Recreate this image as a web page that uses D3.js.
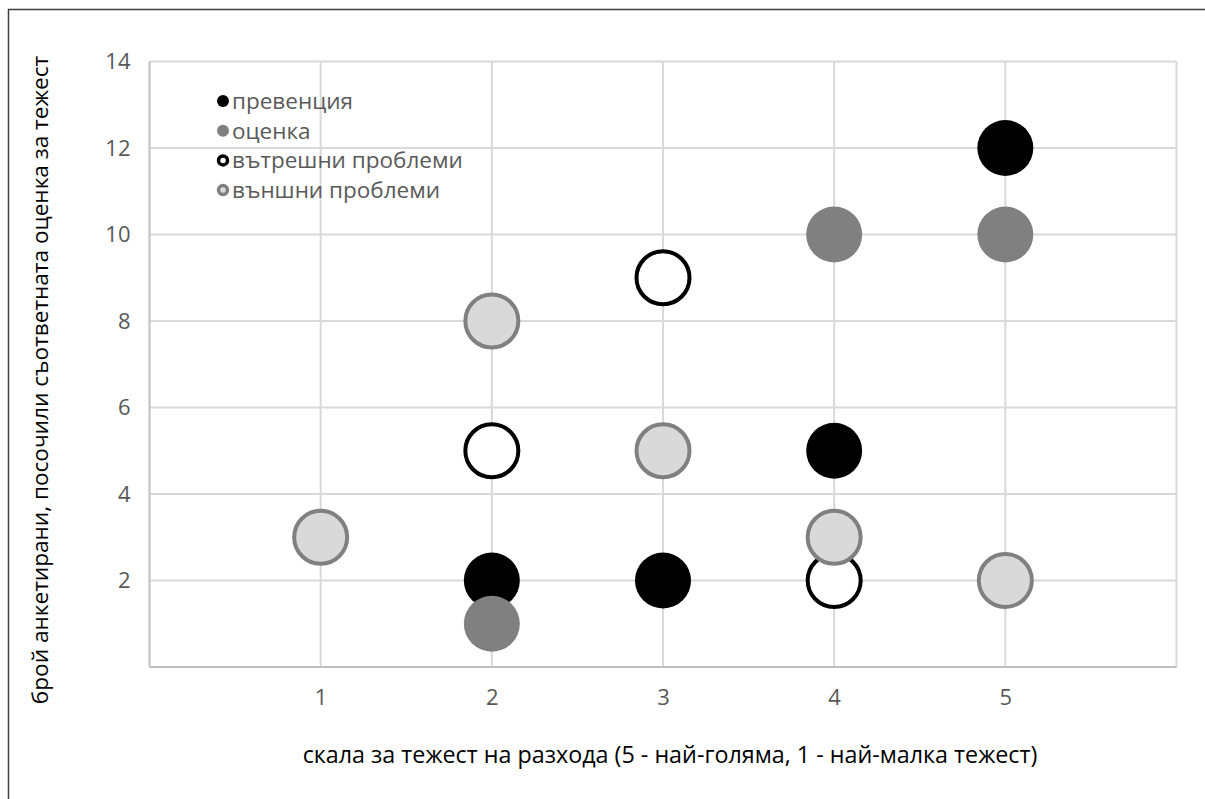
<!DOCTYPE html>
<html>
<head>
<meta charset="utf-8">
<script src="https://cdn.jsdelivr.net/npm/d3@7"></script>
<style>
  html, body { margin: 0; padding: 0; background: #fff; }
  svg { display: block; }
  text { font-family: "Open Sans", "Noto Sans", sans-serif; }
</style>
</head>
<body>
<svg id="chart" width="1205" height="799"></svg>
<script>
// Series: severity scale value (x) and number of respondents (y)
const seriesNames = ["превенция", "оценка", "вътрешни проблеми", "външни проблеми"];
const preventionX = [2, 3, 4, 5];
const preventionY = [2, 2, 5, 12];
const assessmentX = [2, 4, 5];
const assessmentY = [1, 10, 10];
const internalX = [2, 3, 4];
const internalY = [5, 9, 2];
const externalX = [1, 2, 3, 4, 5];
const externalY = [3, 8, 5, 3, 2];
const xTicks = [1, 2, 3, 4, 5];
const yTicks = [2, 4, 6, 8, 10, 12, 14];
const xTitle = "скала за тежест на разхода (5 - най-голяма, 1 - най-малка тежест)";
const yTitle = "брой анкетирани, посочили съответната оценка за тежест";

const styles = [
  { fill: "#000000", stroke: "none", sw: 0 },
  { fill: "#808080", stroke: "none", sw: 0 },
  { fill: "#ffffff", stroke: "#000000", sw: 4 },
  { fill: "#d9d9d9", stroke: "#808080", sw: 4 }
];
const series = [
  { xs: preventionX, ys: preventionY },
  { xs: assessmentX, ys: assessmentY },
  { xs: internalX, ys: internalY },
  { xs: externalX, ys: externalY }
];

const svg = d3.select("#chart");
const plot = { left: 149.5, right: 1176.5, top: 61.5, bottom: 667 };

// Outer chart frame
svg.append("rect")
  .attr("x", 8.5).attr("y", 9.5)
  .attr("width", 1205).attr("height", 799)
  .attr("fill", "none").attr("stroke", "#404040").attr("stroke-width", 1.5);

const x = d3.scaleLinear().domain([0, 6]).range([plot.left, plot.right]);
const y = d3.scaleLinear().domain([0, 14]).range([plot.bottom, plot.top]);

// Gridlines
const grid = svg.append("g");
grid.selectAll("line.v").data(xTicks).join("line")
  .attr("x1", d => x(d)).attr("x2", d => x(d))
  .attr("y1", plot.top).attr("y2", plot.bottom)
  .attr("stroke", "#d9d9d9").attr("stroke-width", 2);
grid.selectAll("line.h").data(yTicks).join("line")
  .attr("x1", plot.left).attr("x2", plot.right)
  .attr("y1", d => y(d)).attr("y2", d => y(d))
  .attr("stroke", "#d9d9d9").attr("stroke-width", 2);

// Plot-area border lines
grid.append("line").attr("x1", plot.right).attr("x2", plot.right)
  .attr("y1", plot.top).attr("y2", plot.bottom)
  .attr("stroke", "#d9d9d9").attr("stroke-width", 2);
grid.append("line").attr("x1", plot.left).attr("x2", plot.left)
  .attr("y1", plot.top).attr("y2", plot.bottom)
  .attr("stroke", "#bfbfbf").attr("stroke-width", 2);
grid.append("line").attr("x1", plot.left).attr("x2", plot.right)
  .attr("y1", plot.bottom).attr("y2", plot.bottom)
  .attr("stroke", "#bfbfbf").attr("stroke-width", 2);

// Axes (labels only)
const xAxis = svg.append("g")
  .attr("transform", `translate(0,${plot.bottom})`)
  .call(d3.axisBottom(x).tickValues(xTicks).tickSize(0).tickPadding(22).tickFormat(d3.format("d")));
const yAxis = svg.append("g")
  .attr("transform", `translate(${plot.left},0)`)
  .call(d3.axisLeft(y).tickValues(yTicks).tickSize(0).tickPadding(19).tickFormat(d3.format("d")));
[xAxis, yAxis].forEach(a => {
  a.select(".domain").remove();
  a.selectAll("text")
    .attr("fill", "#595959")
    .style("font-size", "22px")
    .style("font-family", "'Open Sans', 'Noto Sans', sans-serif");
});

// Points, drawn in series order
series.forEach((s, i) => {
  const st = styles[i];
  svg.append("g").selectAll("circle")
    .data(s.xs.map((xv, j) => [xv, s.ys[j]]))
    .join("circle")
    .attr("cx", d => x(d[0]))
    .attr("cy", d => y(d[1]))
    .attr("r", st.sw ? 26.5 : 28)
    .attr("fill", st.fill)
    .attr("stroke", st.stroke)
    .attr("stroke-width", st.sw);
});

// Legend
const legend = svg.append("g");
seriesNames.forEach((name, i) => {
  const st = styles[i];
  const cy = 101 + i * 29.7;
  legend.append("circle")
    .attr("cx", 223).attr("cy", cy)
    .attr("r", st.sw ? 4.5 : 6)
    .attr("fill", st.fill)
    .attr("stroke", st.stroke)
    .attr("stroke-width", st.sw ? 3.5 : 0);
  legend.append("text")
    .attr("x", 232).attr("y", cy)
    .attr("dy", "0.35em")
    .attr("fill", "#595959")
    .style("font-size", "22.5px")
    .text(name);
});

// Axis titles
svg.append("text")
  .attr("x", 670).attr("y", 755)
  .attr("text-anchor", "middle").attr("dy", "0.35em")
  .attr("fill", "#000")
  .style("font-size", "23.3px")
  .text(xTitle);
svg.append("text")
  .attr("transform", `translate(40,380) rotate(-90)`)
  .attr("text-anchor", "middle").attr("dy", "0.35em")
  .attr("fill", "#000")
  .style("font-size", "22.6px")
  .text(yTitle);
</script>
</body>
</html>
